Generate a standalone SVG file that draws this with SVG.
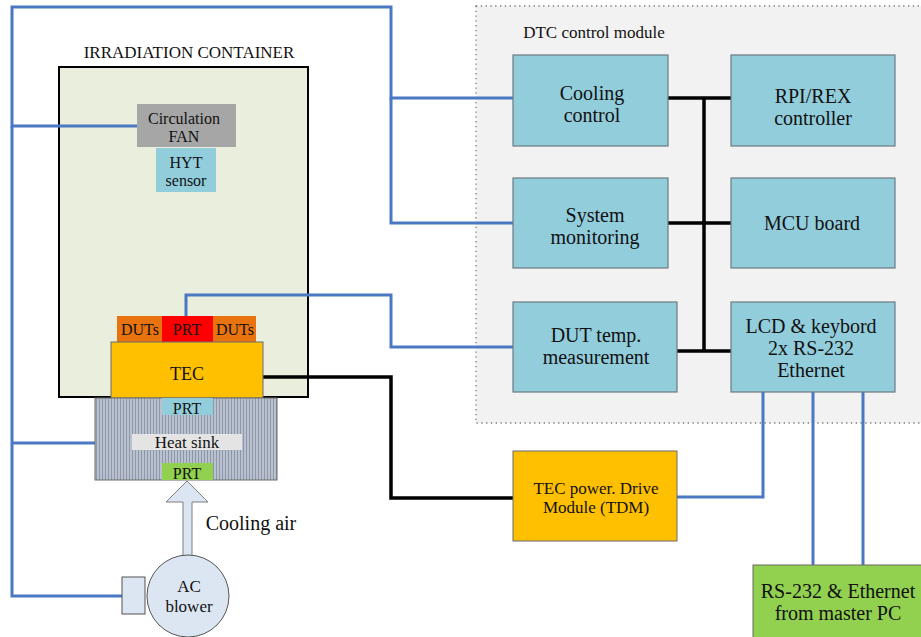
<svg xmlns="http://www.w3.org/2000/svg" width="921" height="637" viewBox="0 0 921 637">
<defs>
<pattern id="stripes" width="3" height="10" patternUnits="userSpaceOnUse">
<rect width="3" height="10" fill="#b9c1cf"/>
<rect width="1" height="10" fill="#8e98aa"/>
</pattern>
</defs>
<style>
text{font-family:"Liberation Serif","Times New Roman",serif;fill:#111;text-anchor:middle}
.blk{fill:#92cddc;stroke:#6b7b80;stroke-width:1.2}
.blue{fill:none;stroke:#4a78c2;stroke-width:3}
.black{fill:none;stroke:#000;stroke-width:3.5}
.t20{font-size:20px}
.t17{font-size:17px}
.t16{font-size:16px}
</style>
<rect width="921" height="637" fill="#fff"/>

<g id="dtc-module">
<rect x="476" y="6" width="450" height="417" fill="#f2f2f2" stroke="#777" stroke-width="1.3" stroke-dasharray="1.3,3.5"/>
<text x="594" y="38" class="t17">DTC control module</text>
</g>

<g id="container">
<text x="189" y="58" class="t17">IRRADIATION CONTAINER</text>
<rect x="59" y="67" width="249" height="330" fill="#e9eedd" stroke="#000" stroke-width="2"/>
</g>

<g id="connectors">
<polyline class="blue" points="138,126 12,126 12,7 391,7 391,98 513,98"/>
<polyline class="blue" points="391,98 391,223 513,223"/>
<polyline class="blue" points="12,126 12,596 122,596"/>
<polyline class="blue" points="12,443 95,443"/>
<polyline class="blue" points="186,316 186,295 391,295 391,347 513,347"/>
<polyline class="black" points="263,377 391,377 391,498 513,498"/>
<polyline class="black" points="667,98 731,98"/>
<polyline class="black" points="667,223 731,223"/>
<polyline class="black" points="677,351 731,351"/>
<polyline class="black" points="704,98 704,351"/>
<polyline class="blue" points="763,392 763,497 677,497"/>
<polyline class="blue" points="813,392 813,565"/>
<polyline class="blue" points="863,392 863,565"/>
</g>

<g id="fan">
<rect x="137" y="104" width="99" height="43" fill="#a6a6a6"/>
<text x="184" y="124" class="t16">Circulation</text>
<text x="184" y="142" class="t16">FAN</text>
</g>
<g id="hyt">
<rect x="156" y="148" width="60" height="44" fill="#92cddc"/>
<text x="186" y="168" class="t16">HYT</text>
<text x="186" y="186" class="t16">sensor</text>
</g>

<g id="duts-left">
<rect x="117" y="316" width="45" height="26" fill="#e9730f"/>
<text x="140" y="335" class="t16">DUTs</text>
</g>
<g id="prt-top">
<rect x="162" y="316" width="51" height="26" fill="#ff0000"/>
<text x="187" y="335" class="t16">PRT</text>
</g>
<g id="duts-right">
<rect x="213" y="316" width="43" height="26" fill="#e9730f"/>
<text x="235" y="335" class="t16">DUTs</text>
</g>
<g id="tec">
<rect x="111" y="342" width="152" height="56" fill="#ffc000" stroke="#6b6b6b" stroke-width="1"/>
<text x="187" y="380" style="font-size:18px">TEC</text>
</g>
<g id="heatsink">
<rect x="95" y="398" width="182" height="82" fill="url(#stripes)" stroke="#6b6b6b" stroke-width="1"/>
<rect x="162" y="398" width="51" height="17" fill="#92cddc"/>
<text x="187" y="414" class="t16">PRT</text>
<rect x="132" y="434" width="110" height="16" fill="#e4e4e4"/>
<text x="187" y="448" class="t17">Heat sink</text>
<rect x="162" y="463" width="51" height="17" fill="#92d050"/>
<text x="187" y="479" class="t16">PRT</text>
</g>

<g id="airflow">
<polygon points="187,481 208,502 192,502 192,556 183,556 183,502 166,502" fill="#dce6f2" stroke="#7f7f7f" stroke-width="1"/>
<text x="251" y="530" class="t20">Cooling air</text>
</g>

<g id="blower">
<rect x="122" y="577" width="23" height="37" fill="#dce6f2" stroke="#555" stroke-width="1"/>
<circle cx="188" cy="596" r="41" fill="#dce6f2" stroke="#555" stroke-width="1"/>
<text x="189" y="592" class="t17">AC</text>
<text x="189" y="612" class="t17">blower</text>
</g>

<g id="cooling-control">
<rect class="blk" x="513" y="55" width="155" height="91"/>
<text x="592" y="100" class="t20">Cooling</text>
<text x="592" y="122" class="t20">control</text>
</g>
<g id="rpi-rex">
<rect class="blk" x="731" y="55" width="164" height="91"/>
<text x="813" y="103" class="t20">RPI/REX</text>
<text x="813" y="125" class="t20">controller</text>
</g>
<g id="system-monitoring">
<rect class="blk" x="513" y="178" width="155" height="90"/>
<text x="595" y="222" class="t20">System</text>
<text x="595" y="244" class="t20">monitoring</text>
</g>
<g id="mcu-board">
<rect class="blk" x="731" y="178" width="164" height="90"/>
<text x="812" y="230" class="t20">MCU board</text>
</g>
<g id="dut-temp">
<rect class="blk" x="513" y="302" width="164" height="90"/>
<text x="596" y="342" class="t20">DUT temp.</text>
<text x="596" y="364" class="t20">measurement</text>
</g>
<g id="lcd">
<rect class="blk" x="731" y="302" width="164" height="90"/>
<text x="811" y="333" class="t20">LCD &amp; keybord</text>
<text x="811" y="355" class="t20">2x RS-232</text>
<text x="811" y="377" class="t20">Ethernet</text>
</g>
<g id="tdm">
<rect x="513" y="451" width="164" height="90" fill="#ffc000" stroke="#6b6b6b" stroke-width="1"/>
<text x="596" y="494" class="t17">TEC power. Drive</text>
<text x="596" y="513" class="t17">Module (TDM)</text>
</g>
<g id="master-pc">
<rect x="753" y="565" width="172" height="76" fill="#92d050" stroke="#6b6b6b" stroke-width="1"/>
<text x="838" y="598" class="t20">RS-232 &amp; Ethernet</text>
<text x="838" y="620" class="t20">from master PC</text>
</g>
</svg>
